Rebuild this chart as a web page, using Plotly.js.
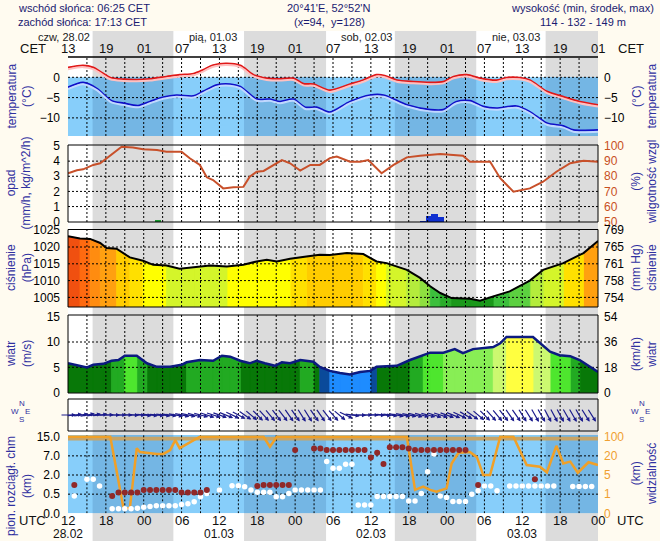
<!DOCTYPE html>
<html><head><meta charset="utf-8">
<script src="https://cdn.plot.ly/plotly-3.0.1.min.js"></script>
<style>body{margin:0;background:#fffbf0}#chart{width:660px;height:541px}</style>
</head><body><div id="chart"></div>
<script>
// ---------------- DATA (hours after 28.02 12 UTC) ----------------
const nightStart = [3.9, 27.9, 51.8, 75.7];
const nightEnd   = [16.7, 40.9, 64.7, 84];
const utcLabels = ['12','18','00','06','12','18','00','06','12','18','00','06','12','18','00'];
const cetLabels = ['13','19','01','07','13','19','01','07','13','19','01','07','13','19','01'];
const dateLabels = ['28.02','01.03','02.03','03.03'];
const dayLabels = ['czw, 28.02','pią, 01.03','sob, 02.03','nie, 03.03'];

const tempT = [0,2.4,4.0,5.1,6.7,8.8,10.9,13.0,15.6,17.7,19.9,21.4,23.0,25.2,27.3,29.4,31.5,33.6,35.7,37.3,38.9,41.5,44.7,46.8,48.9,50.2,52.1,54.7,57.4,59.5,61.1,63.2,65.3,67.9,69.5,71.6,73.2,75.9,78.5,81.1,84];
const tempV = [2.4,2.9,2.4,1.4,-0.1,-0.5,-0.6,-0.4,0.15,0.6,0.9,1.8,3.0,3.4,2.9,0.6,-0.25,-0.4,-0.25,-1.6,-1.7,-3.2,-1.7,-0.7,0.6,0.4,-0.7,-1.1,-1.3,-1.1,0.15,0.6,-0.25,-0.75,-0.1,-0.1,-0.7,-3.5,-4.8,-6.0,-6.8];
const dewT = [0,2.4,4.5,6.9,8.8,11.1,13.0,15.1,17.2,19.9,21.4,23.6,25.7,27.3,29.9,32.0,33.6,35.7,37.6,39.4,41.5,44.7,47.9,50.0,53.7,57.4,59.5,61.6,63.7,65.8,67.9,71.1,73.2,75.9,78.5,80.1,84];
const dewV = [-2.5,-1.3,-2.7,-5.8,-6.4,-7.0,-6.0,-4.9,-4.4,-4.6,-3.5,-1.9,-1.7,-2.3,-5.4,-5.4,-6.0,-5.4,-7.4,-7.4,-8.6,-6.0,-4.4,-4.4,-6.8,-8.0,-8.0,-6.0,-5.8,-7.2,-7.6,-7.1,-8.5,-11.3,-12.0,-13.0,-13.0];

const humT = [0,1.4,2.4,4.0,5.1,6.7,8.5,10.3,11.9,14.1,15.6,18.0,19.3,20.9,22.0,23.0,24.6,26.2,27.8,28.8,29.9,31.0,32.5,33.9,35.2,36.8,38.4,39.9,41.5,42.6,44.7,46.3,47.6,49.7,51.6,53.7,55.8,59.0,62.6,63.7,66.9,68.5,70.6,73.2,75.3,77.4,79.6,81.7,84];
const humV = [82,84,84.6,87.5,88.6,94,99.5,99,97.8,97.4,96.2,96.2,91.9,87.5,79.3,77.5,72,72.7,73,79.7,83,83.5,87.5,90.7,88.6,83.7,87.5,87.5,92,93,89.6,89.6,90.7,82,87.5,92.5,93.6,94.7,93.6,89.6,89.6,78.7,69.8,72,76.4,83,88.6,90.3,89.6];
const precT = [14.3, 56.3, 57.2, 58.1, 59.1];
const precV = [0.12, 0.07, 0.40, 0.50, 0.30];
const precKind = ['green','blue','blue','blue','blue'];

const presT = [0,1.9,3.5,5.1,6.1,7.7,9.8,11.9,13.5,15.6,17.7,19.9,22.5,25.2,27.8,29.9,31.5,33.1,35.2,37.8,39.9,41.5,44.2,46.8,48.9,50.5,53.7,55.8,57.4,59.0,60.8,63.7,65.3,67.4,70.0,73.2,75.3,78.5,81.7,84];
const presV = [1023.2,1022.5,1022.4,1021.2,1019.7,1019.5,1016.9,1015.9,1014.7,1014.5,1013.5,1013.9,1014.5,1014.2,1014.7,1015.7,1016.2,1015.7,1016.5,1017.2,1017.7,1017.6,1018.2,1017.9,1015.7,1015.2,1013.2,1010.8,1008.3,1006.3,1004.8,1004.6,1004.0,1005.3,1006.8,1010.0,1013.2,1015.2,1018.2,1021.8];

const windT = [0,3.0,4.0,5.6,6.9,8.0,9.0,10.9,12.5,14.1,16.2,18.0,18.8,20.9,23.0,24.4,25.7,27.3,28.8,29.9,31.2,32.8,33.9,35.2,36.8,38.9,39.9,41.5,43.1,44.7,46.3,47.9,48.9,52.1,54.2,56.3,57.4,59.5,61.3,62.6,64.2,67.4,68.5,69.5,73.7,76.4,77.9,79.6,81.1,84];
const windV = [5.8,5.0,5.5,5.7,6.3,6.45,7.3,7.3,5.8,5.1,5.1,5.5,6.0,6.45,6.3,7.3,7.1,6.3,5.8,6.3,5.8,5.3,6.0,5.8,6.45,6.1,5.1,4.3,3.9,3.6,4.1,4.3,5.1,5.3,6.45,7.4,7.9,7.9,8.6,7.8,8.6,9.0,9.75,11.0,11.0,8.1,7.4,7.2,6.45,4.1];
// wind direction (deg, from), hourly 0..84
const windDir = [270,265,262,260,262,265,268,270,270,270, 272,272,275,275,275,278,278,280,
  282,282,285,285,288,288,290,292,295,298, 305,310,315,318,320,322, 322,325,325,328,328,325,325,
  322,318,310,295, 278,272,270,270,272,275,278, 280,282,282,285,285,285,288,288,290,292,295,300,
  305,310,315,318,320,322,325, 325,328,328,330,330,332,332,332,330,330,330,328,328,328];

const visT = [0,6.7,8.8,9.8,10.9,11.4,14.1,15.1,16.2,17.0,17.7,19.9,20.9,29.9,31.0,32.0,33.1,53.7,55.0,56.3,57.4,58.4,60.0,60.8,61.9,63.7,64.8,65.8,66.9,68.5,70.6,72.7,74.8,75.9,77.4,78.5,79.6,80.8,82.5,84];
const visV = [100,100,0.26,0.26,52,36,28,28,44,86,52,86,100,100,100,58,100,100,1.9,2.6,1.9,1.5,2.2,14,33,36,19,5,5,100,100,12.8,11.5,7.1,62,14,15.5,6.8,15,12.8];

const cloudRedT = [1,7,8,9,10,11,12,13,14,15,16,17,18,19,20,21,22,30,31,32,33,34,35,36,39,40,41,42,43,44,45,46,47,48,49,50,51,52,53,54,55,56,57,58,59,60,61,62,63,65,74];
const cloudRedV = [1.22,0.45,0.62,0.62,0.62,0.62,0.83,0.83,0.83,0.83,0.83,0.83,0.62,0.62,0.62,0.62,0.83,1.14,1.22,1.22,1.22,1.22,1.22,9.4,10.1,10.1,9.4,9.4,9.4,9.4,9.4,9.4,9.4,6.6,8.3,4.85,10.6,10.6,10.6,10.1,9.4,9.4,9.4,9.4,9.4,9.4,9.4,9.4,9.4,1.22,1.67];
const cloudWhiteT = [1,3,4,5,7,8,9,10,11,12,13,14,15,16,17,18,19,20,21,22,24,26,27,28,29,30,31,32,33,34,35,36,37,38,39,40,41,42,43,44,45,46,47,48,49,50,51,52,53,54,55,56,57,58,59,60,61,62,63,64,65,66,67,68,70,71,72,73,74,75,76,77,80,81,82,83];
const cloudWhiteV = [0.45,1.67,1.67,1.14,0.12,0.12,0.12,0.12,0.13,0.16,0.18,0.2,0.2,0.2,0.2,0.23,0.25,0.3,0.43,0.56,0.83,1.16,1.16,1.08,0.83,0.65,0.65,0.65,0.43,0.43,0.56,0.83,0.83,0.83,0.83,0.83,5.5,3.75,3.75,4.8,4.8,0.22,0.22,0.22,0.44,0.44,0.44,0.44,0.44,0.32,0.32,0.56,2.85,7.8,0.45,0.41,0.31,0.31,0.31,0.5,0.77,1.14,1.14,0.77,1.14,1.14,1.14,1.14,1.14,1.14,1.14,1.14,1.1,1.1,1.1,1.1];

// ---------------- LAYOUT GEOMETRY ----------------
const W = 660, H = 541, PL = 68, PR = 598;
const FONT = 'Liberation Sans, Arial, sans-serif';
const NARROW = 'Liberation Sans Narrow, Arial Narrow, Liberation Sans, sans-serif';
const TBLUE = '#3030a0';
const px = x => (x - PL) / (PR - PL);
const py = y => 1 - y / H;
const dom = a => [1 - a[1] / H, 1 - a[0] / H];
const P = {temp:[57,136], prec:[145,222], pres:[229.5,307], wind:[315,393], arr:[399,431], cloud:[435,513.3]};
const R = {temp:[-14.46,5.0], prec:[-0.02,5.066], hum:[49.8,100.66], pres:[1002.14,1025.21], wind:[-0.06,15.33], arr:[0,1], cloud:[0,4.09]};
const pxPerHour = (PR - PL) / 84;
const hourToPaper = h => h / 84;

function piecewise(v, br){ for(let i=0;i<br.length-1;i++){ if(v<=br[i+1]) return i + (v-br[i])/(br[i+1]-br[i]); } return br.length-1; }
const cloudBr = [0,0.5,2,7,15];
const visBr = [0,1,5,20,100];

function presColor(p){
  const t=[[1022.8,'#f05010'],[1022,'#ff6a10'],[1020.5,'#ff8c10'],[1019.3,'#ffa010'],[1018.3,'#ffbb00'],[1017.3,'#ffcc00'],[1016.3,'#ffe000'],[1014.4,'#ffff00'],[1013,'#d4f52a'],[1011.5,'#b4ec3c'],[1009.5,'#8ee040'],[1007.5,'#5cd040'],[1006,'#3cbf3c'],[1004.8,'#2aac2a']];
  for(const [th,c] of t) if(p>=th) return c; return '#1a981a';
}
function windColor(v){
  const t=[[10.4,'#ffff40'],[9.2,'#ccf870'],[8.0,'#88ee55'],[7.2,'#4ee62e'],[6.15,'#22aa22'],[5.0,'#087808'],[4.2,'#0a4a9a']];
  for(const [th,c] of t) if(v>=th) return c; return '#1e8cff';
}
function stripeTraces(T,V,base,colorFn,yaxis){
  const groups={};
  for(let i=0;i<T.length-1;i++){
    const c=colorFn((V[i]+V[i+1])/2);
    const g=(groups[c]=groups[c]||{x:[],y:[]});
    g.x.push(T[i],T[i],T[i+1],T[i+1],T[i],null);
    g.y.push(base,V[i],V[i+1],base,base,null);
  }
  return Object.entries(groups).map(([c,g])=>({type:'scatter',mode:'lines',x:g.x,y:g.y,fill:'toself',fillcolor:c,line:{width:0.8,color:c},yaxis,hoverinfo:'skip',showlegend:false}));
}
function gridTrace(yaxis, r, hvals){
  const x=[],y=[];
  for(let h=3;h<84;h+=3){x.push(h,h,null);y.push(r[0],r[1],null);}
  for(const v of hvals){x.push(0,84,null);y.push(v,v,null);}
  return {type:'scatter',mode:'lines',x,y,yaxis,line:{color:'#000',width:1,dash:'2px,2px'},hoverinfo:'skip',showlegend:false};
}

const traces = [];
traces.push(gridTrace('y', R.temp, [0,-5,-10]));
traces.push({type:'scatter',mode:'lines',x:tempT,y:tempV,yaxis:'y12',line:{color:'#ffc0c0',width:2,shape:'spline',smoothing:0.8},hoverinfo:'skip'});
traces.push({type:'scatter',mode:'lines',x:dewT,y:dewV,yaxis:'y12',line:{color:'#c0d8ff',width:2,shape:'spline',smoothing:0.8},hoverinfo:'skip'});
traces.push({type:'scatter',mode:'lines',x:tempT,y:tempV,yaxis:'y7',line:{color:'#e01818',width:2,shape:'spline',smoothing:0.8}});
traces.push({type:'scatter',mode:'lines',x:dewT,y:dewV,yaxis:'y7',line:{color:'#1010c8',width:2,shape:'spline',smoothing:0.8}});
traces.push({type:'bar',x:precT,y:precV,width:1,yaxis:'y2',marker:{color:precKind.map(k=>k==='green'?'#1a9a30':'#1030d0'),line:{width:0}}});
traces.push(gridTrace('y2', R.prec, [1,2,3,4]));
traces.push({type:'scatter',mode:'lines',x:humT,y:humV,yaxis:'y8',line:{color:'#c8502a',width:2}});
stripeTraces(presT,presV,R.pres[0],presColor,'y3').forEach(t=>traces.push(t));
traces.push(gridTrace('y3', R.pres, [1005,1010,1015,1020]));
traces.push({type:'scatter',mode:'lines',x:presT,y:presV,yaxis:'y9',line:{color:'#000',width:2}});
stripeTraces(windT,windV,0,windColor,'y4').forEach(t=>traces.push(t));
traces.push(gridTrace('y4', R.wind, [5,10]));
traces.push({type:'scatter',mode:'lines',x:windT,y:windV,yaxis:'y10',line:{color:'#0c1a80',width:2.5}});
traces.push(gridTrace('y5', R.arr, []));
traces.push(gridTrace('y6', R.cloud, [1,2,3]));
traces.push({type:'scatter',mode:'lines',x:visT,y:visV.map(v=>piecewise(v,visBr)),yaxis:'y6',line:{color:'#f0a028',width:2.5}});
traces.push({type:'scatter',mode:'markers',x:cloudWhiteT,y:cloudWhiteV.map(v=>piecewise(v,cloudBr)),yaxis:'y11',marker:{color:'#ffffff',size:5.5,line:{width:0}}});
traces.push({type:'scatter',mode:'markers',x:cloudRedT,y:cloudRedV.map(v=>piecewise(v,cloudBr)),yaxis:'y11',marker:{color:'#902828',size:6,line:{width:0}}});

// ---------------- SHAPES ----------------
const shapes = [];
shapes.push({type:'rect',xref:'x',yref:'paper',x0:0,x1:84,y0:py(541),y1:py(31),fillcolor:'#ffffff',line:{width:0},layer:'below'});
nightStart.forEach((s,i)=>shapes.push({type:'rect',xref:'x',yref:'paper',x0:s,x1:nightEnd[i],y0:py(541),y1:py(31),fillcolor:'#dcdcdc',line:{width:0},layer:'below'}));
shapes.push({type:'rect',xref:'x',yref:'y',x0:0,x1:84,y0:R.temp[0],y1:0,fillcolor:'#87cefa',line:{width:0},layer:'below'});
nightStart.forEach((s,i)=>shapes.push({type:'rect',xref:'x',yref:'y',x0:s,x1:nightEnd[i],y0:R.temp[0],y1:0,fillcolor:'#74b6e4',line:{width:0},layer:'below'}));
shapes.push({type:'rect',xref:'x',yref:'y6',x0:0,x1:84,y0:0,y1:R.cloud[1],fillcolor:'#87cefa',line:{width:0},layer:'below'});
nightStart.forEach((s,i)=>shapes.push({type:'rect',xref:'x',yref:'y6',x0:s,x1:nightEnd[i],y0:0,y1:R.cloud[1],fillcolor:'#74b6e4',line:{width:0},layer:'below'}));
shapes.push({type:'rect',xref:'x',yref:'y6',x0:0,x1:84,y0:3.8,y1:4.0,fillcolor:'#c8a466',line:{width:0},layer:'below'});
['y2','y3','y4','y5'].forEach(a=>shapes.push({type:'rect',xref:'x domain',yref:a+' domain',x0:0,x1:1,y0:0,y1:1,line:{color:'#000',width:1},layer:'above'}));
shapes.push({type:'line',xref:'x domain',yref:'y domain',x0:0,x1:1,y0:1,y1:1,line:{color:'#000',width:1.5},layer:'above'});

// ---------------- ANNOTATIONS ----------------
const ann = [];
const txt = (x,y,text,o={}) => ann.push(Object.assign({xref:'paper',yref:'paper',x:px(x),y:py(y),text,showarrow:false,xanchor:'center',yanchor:'middle',font:{family:FONT,size:11,color:'#1a1a70'}},o));
txt(16,8,'wschód słońca: 06:25 CET',{xanchor:'left'});
txt(16,22,'zachód słońca: 17:13 CET',{xanchor:'left'});
txt(328,8,"20°41'E, 52°52'N");
txt(329,22,'(x=94,  y=128)');
txt(656,8,'wysokość (min, środek, max)',{xanchor:'right'});
txt(583,22,'114 - 132 - 149 m');
dayLabels.forEach((d,i)=>ann.push({xref:'paper',yref:'paper',x:hourToPaper(i*24-6+0.9),y:py(37),text:d,showarrow:false,xanchor:'left',yanchor:'middle',font:{family:FONT,size:11,color:'#222'}}));
cetLabels.forEach((l,i)=>ann.push({xref:'x',yref:'paper',x:i*6,y:py(48),text:l,showarrow:false,xanchor:'center',yanchor:'middle',font:{family:NARROW,size:13,color:'#111'}}));
utcLabels.forEach((l,i)=>ann.push({xref:'x',yref:'paper',x:i*6,y:py(520),text:l,showarrow:false,xanchor:'center',yanchor:'middle',font:{family:NARROW,size:13,color:'#111'}}));
dateLabels.forEach((l,i)=>ann.push({xref:'x',yref:'paper',x:i*24,y:py(534),text:l,showarrow:false,xanchor:'center',yanchor:'middle',font:{family:NARROW,size:12,color:'#111'}}));
txt(33,48,'CET',{font:{family:NARROW,size:13,color:'#111'}});
txt(631,48,'CET',{font:{family:NARROW,size:13,color:'#111'}});
txt(32,520,'UTC',{font:{family:NARROW,size:13,color:'#111'}});
txt(630,520,'UTC',{font:{family:NARROW,size:13,color:'#111'}});
const ttl = (x,y,text) => txt(x,y,text,{textangle:-90,font:{family:FONT,size:12,color:TBLUE}});
ttl(19,96.5,'temperatura<br>(°C)');
ttl(19,183.5,'opad<br>(mm/h, kg/m^2/h)');
ttl(19,268,'ciśnienie<br>(hPa)');
ttl(19,354,'wiatr<br>(m/s)');
ttl(19,486,'pion. rozciągł. chm<br>(km)');
ttl(644,96.5,'(°C)<br>temperatura');
ttl(644,182,'(%)<br>wilgotność wzgl');
ttl(644,268,'(mm Hg)<br>ciśnienie');
ttl(644,354,'(km/h)<br>wiatr');
ttl(644,474,'(km)<br>widzialność');
[21,641].forEach(cx=>{
  const f={family:FONT,size:8,color:TBLUE};
  txt(cx+0.5,403,'N',{font:f}); txt(cx-6,411,'W',{font:f}); txt(cx+6,411,'E',{font:f}); txt(cx,419,'S',{font:f});
});
const L = 16, arrH = P.arr[1]-P.arr[0];
windDir.forEach((d,h)=>{
  const r = d*Math.PI/180;
  const ax = Math.sin(r)*L, ay = -Math.cos(r)*L;
  ann.push({xref:'x',yref:'y5',x:h - ax/2/pxPerHour, y:0.5 + ay/2/arrH, ax, ay, axref:'pixel', ayref:'pixel',
    text:'', showarrow:true, arrowhead:2, arrowsize:0.7, arrowwidth:1.2, arrowcolor:'#1c1c8c', standoff:0, startstandoff:0});
});

// ---------------- AXES ----------------
const tickFont = {family:NARROW,size:12,color:'#000'};
const baseY = (d,r,extra) => Object.assign({domain:dom(d),range:r,anchor:'x',showgrid:false,zeroline:false,showline:false,ticks:'',tickfont:tickFont,ticklabelstandoff:7,fixedrange:true},extra||{});
const rightY = (base,d,r,extra) => Object.assign({overlaying:base,side:'right',domain:dom(d),range:r,anchor:'x',showgrid:false,zeroline:false,showline:false,ticks:'',tickfont:tickFont,ticklabelstandoff:5,fixedrange:true},extra||{});
const shadowShift = 1.6 / 4.06;

const layout = {
  width:W, height:H, margin:{l:PL,r:W-PR,t:0,b:0,pad:0},
  paper_bgcolor:'#fffbf0', plot_bgcolor:'rgba(0,0,0,0)', showlegend:false, bargap:0,
  xaxis:{range:[0,84],domain:[0,1],anchor:'y6',showgrid:false,zeroline:false,showline:false,showticklabels:false,ticks:'',fixedrange:true},
  yaxis: baseY(P.temp,R.temp,{tickvals:[0,-5,-10]}),
  yaxis2: baseY(P.prec,R.prec,{tickvals:[0,1,2,3,4,5]}),
  yaxis3: baseY(P.pres,R.pres,{tickvals:[1005,1010,1015,1020,1025]}),
  yaxis4: baseY(P.wind,R.wind,{tickvals:[0,5,10,15]}),
  yaxis5: baseY(P.arr,R.arr,{showticklabels:false}),
  yaxis6: baseY(P.cloud,R.cloud,{tickvals:cloudBr.map((v,i)=>i),ticktext:cloudBr.map(v=>v.toFixed(1))}),
  yaxis7: rightY('y',P.temp,R.temp,{tickvals:[0,-5,-10]}),
  yaxis8: rightY('y2',P.prec,R.hum,{tickvals:[50,60,70,80,90,100],tickfont:{family:NARROW,size:12,color:'#c8501e'}}),
  yaxis9: rightY('y3',P.pres,R.pres,{tickvals:[1005,1010,1015,1020,1025],ticktext:[1005,1010,1015,1020,1025].map(v=>String(Math.round(v*0.750062)))}),
  yaxis10: rightY('y4',P.wind,R.wind,{tickvals:[0,5,10,15],ticktext:[0,5,10,15].map(v=>String(Math.round(v*3.6)))}),
  yaxis11: rightY('y6',P.cloud,R.cloud,{tickvals:visBr.map((v,i)=>i),ticktext:visBr.map(String),tickfont:{family:NARROW,size:12,color:'#f0a030'}}),
  yaxis12: rightY('y',P.temp,[R.temp[0]+shadowShift,R.temp[1]+shadowShift],{showticklabels:false,visible:false}),
  shapes, annotations: ann
};
Plotly.newPlot('chart', traces, layout, {staticPlot:true, displayModeBar:false});
</script></body></html>
